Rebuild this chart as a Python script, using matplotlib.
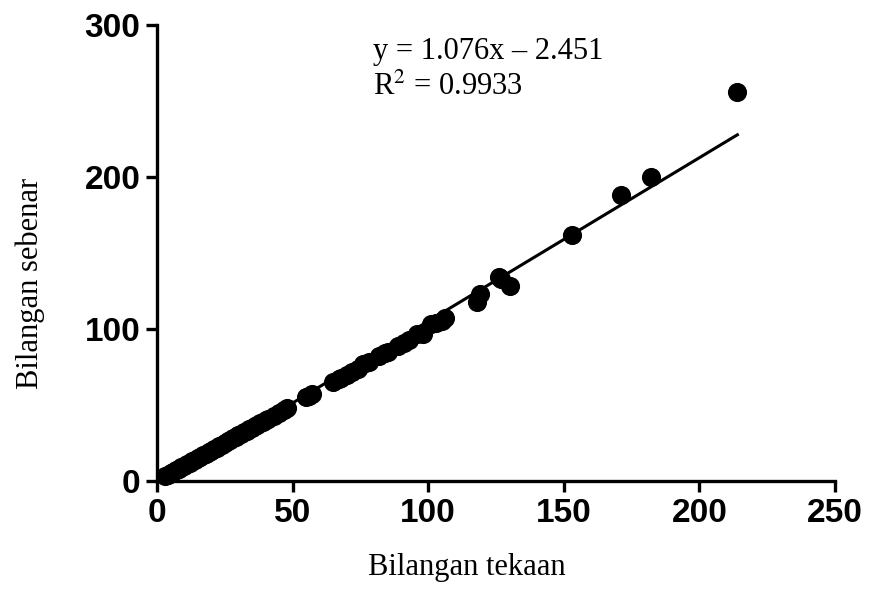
import numpy as np
import matplotlib
matplotlib.use("Agg")
import matplotlib.pyplot as plt

# estimated (tekaan) vs actual (sebenar) counts
tekaan = [3, 4, 5, 6, 7, 8, 9, 10, 11, 12, 13, 14, 15, 16, 17, 18, 19, 20,
          21, 22, 23, 24, 25, 26, 27, 28, 29, 30, 31, 32, 33, 34, 35, 36, 37,
          38, 39, 40, 41, 43, 45, 47, 48, 55, 56, 57, 65, 67, 68, 70, 72, 74,
          76, 78, 82, 84, 85, 89, 91, 93, 96, 98, 101, 103, 105, 106,
          118, 119, 126, 127, 130, 153, 171, 182, 214]
sebenar = [3, 4, 5, 6, 7, 8, 9, 10, 11, 12, 13, 14, 15, 16, 17, 18, 19, 20,
           21, 22, 23, 24, 25, 26, 27, 28, 29, 30, 31, 32, 33, 34, 35, 36, 37,
           38, 39, 40, 41, 43, 45, 47, 48, 55, 56, 57, 65, 67, 68, 70, 72, 74,
           77, 78, 82, 84, 85, 89, 91, 93, 97, 97, 103, 104, 105, 107,
           118, 123, 134, 133, 128, 162, 188, 200, 256]

slope = 1.076
intercept = -2.451
eq_label = "y = 1.076x \u2013 2.451"
r2_label = "R$^2$ = 0.9933"

x_ticks = [0, 50, 100, 150, 200, 250]
y_ticks = [0, 100, 200, 300]

tick_font = "Liberation Sans"
label_font = "Liberation Serif"

fig = plt.figure(figsize=(8.7, 5.97), dpi=100)
ax = fig.add_axes([0.1805, 0.1943, 0.7793, 0.7637])

ax.scatter(tekaan, sebenar, s=190, color="black", zorder=3, clip_on=False,
           linewidths=0)

xl = np.array([min(tekaan), max(tekaan)])
ax.plot(xl, slope * xl + intercept, color="black", lw=2.2, zorder=2)

ax.set_xlim(0, 250)
ax.set_ylim(0, 300)
ax.set_xticks(x_ticks)
ax.set_yticks(y_ticks)

for s in ["top", "right"]:
    ax.spines[s].set_visible(False)
for s in ["left", "bottom"]:
    ax.spines[s].set_linewidth(2.4)
ax.tick_params(width=2.4, length=8, direction="out", pad=4)
for lab in ax.get_xticklabels() + ax.get_yticklabels():
    lab.set_fontfamily(tick_font)
    lab.set_fontweight("bold")
    lab.set_fontsize(24)

fig.text(467 / 870, 1 - 568 / 597, "Bilangan tekaan", fontfamily=label_font,
         fontsize=22, ha="center", va="center")
fig.text(30 / 870, 1 - 283 / 597, "Bilangan sebenar", fontfamily=label_font,
         fontsize=22, ha="center", va="center", rotation=90)

ax.text(79.5, 278, eq_label, fontfamily=label_font, fontsize=22,
        va="baseline", ha="left")
ax.text(79.5, 254, r2_label, fontfamily=label_font, fontsize=22,
        va="baseline", ha="left", math_fontfamily="stix")

fig.savefig("out.png", dpi=100, facecolor="white")
